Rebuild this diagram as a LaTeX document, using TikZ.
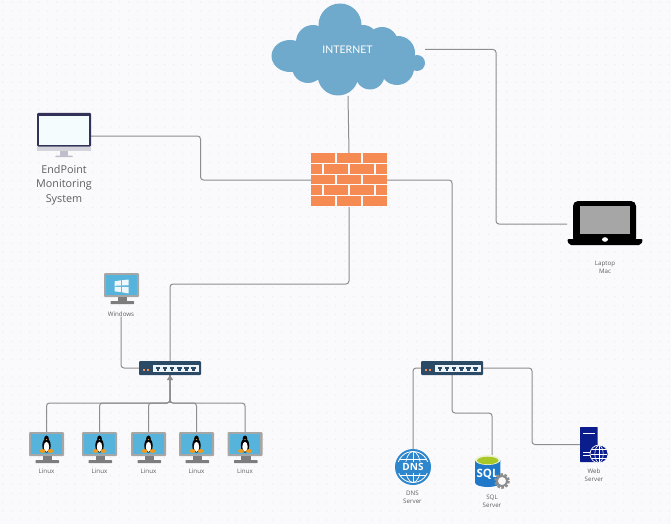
\documentclass[tikz,border=0pt]{standalone}
\usepackage{fontspec}
\setmainfont{Open Sans}
\newfontfamily\cloudfont{Lato}
\usetikzlibrary{arrows.meta}
\definecolor{pagebg}{HTML}{FAFAFC}
\definecolor{griddot}{HTML}{E9E9EE}
\definecolor{linkgray}{HTML}{8E8E8E}
\definecolor{labelgray}{HTML}{5F5F5F}
\definecolor{cloudblue}{HTML}{6FA9CC}
\definecolor{brick}{HTML}{F58B52}
\definecolor{switchblue}{HTML}{2B4A66}
\definecolor{portpale}{HTML}{EEF6FB}
\definecolor{bezel}{HTML}{A6A6A6}
\definecolor{pcscreen}{HTML}{55B3DC}
\definecolor{pcstand}{HTML}{7D7D7D}
\definecolor{penguinfoot}{HTML}{EE9A1E}
\definecolor{dnsblue}{HTML}{2E86CC}
\definecolor{sqlblue}{HTML}{1F78C8}
\definecolor{sqlgreen}{HTML}{A8C82A}
\definecolor{webnavy}{HTML}{0B1D8C}
\tikzset{
  link/.style={linkgray,line width=1pt,rounded corners=3pt},
  iconbox/.style={inner sep=0pt,outer sep=0pt},
  smalllabel/.style={text=labelgray,font=\fontsize{6.2}{8}\selectfont,align=center,inner sep=0pt},
  % screen and stand of a desktop, 35 wide and 31 high, drawn from its top left corner
  desktop/.pic={
    \fill[bezel,rounded corners=1pt] (0,0) rectangle (35,24);
    \fill[pcscreen] (2.3,2.3) rectangle (32.7,22);
    \fill[pcstand] (13.5,24) rectangle (23,28);
    \fill[pcstand,rounded corners=0.5pt] (6.5,28) rectangle (30,31);
  },
  switchbox/.pic={
    \fill[switchblue,rounded corners=1pt] (0,0) rectangle (62,14);
    \fill[portpale] (14,4) rectangle (60,11);
    \fill[brick] (4,8) rectangle (6,10);
    \fill[brick] (7.5,8) rectangle (9.5,10);
    \foreach \p in {0,...,5} {
      \fill[switchblue] (16.8+\p*7.1,5.5) rectangle (21.2+\p*7.1,8);
      \fill[switchblue] (17.8+\p*7.1,8) rectangle (20.2+\p*7.1,9.5);
    }
  },
}
\begin{document}
\begin{tikzpicture}[x=1pt,y=-1pt]
\useasboundingbox (0,0) rectangle (671,524);
\fill[pagebg] (0,0) rectangle (671,524);
% Dotted sheet
\foreach \x in {0,...,74} {
  \foreach \y in {0,...,58} {
    \fill[griddot] (2.7+\x*9,2+\y*8.93) circle (0.6);
  }
}

% Nodes
\node[iconbox,minimum width=154pt,minimum height=93pt] (cloud) at (348,49.5) {};
\node[iconbox,minimum width=76pt,minimum height=54pt] (wall) at (349,180) {};
\node[iconbox,minimum width=54pt,minimum height=46pt] (monitor) at (64,136) {};
\node[text=labelgray,font=\fontsize{10.8}{14.6}\selectfont,align=center,inner sep=0pt] (monitorlabel) at (64,185) {EndPoint\\Monitoring\\System};
\node[iconbox,minimum width=76pt,minimum height=42pt] (laptop) at (605,224) {};
\node[smalllabel] (laptoplabel) at (605,267) {Laptop\\Mac};
\node[iconbox,minimum width=35pt,minimum height=33pt] (windows) at (121.5,289.5) {};
\node[smalllabel] (windowslabel) at (121,314) {Windows};
\node[iconbox,minimum width=62pt,minimum height=14pt] (switchA) at (170,368) {};
\node[iconbox,minimum width=62pt,minimum height=14pt] (switchB) at (452,368) {};
\foreach \n/\x in {1/46.5,2/99.5,3/148.5,4/196.5,5/245} {
  \node[iconbox,minimum width=35pt,minimum height=31pt] (linux\n) at (\x,447.5) {};
  \node[smalllabel] (linuxlabel\n) at (\x,471) {Linux};
}
\node[iconbox,minimum width=36pt,minimum height=36pt] (dns) at (413,467) {};
\node[smalllabel] (dnslabel) at (412.5,497) {DNS\\Server};
\node[iconbox,minimum width=34pt,minimum height=32pt] (sql) at (492,471) {};
\node[smalllabel] (sqllabel) at (492,501) {SQL\\Server};
\node[iconbox,minimum width=28pt,minimum height=35pt] (web) at (594,444.5) {};
\node[smalllabel] (weblabel) at (594,475) {Web\\Server};
\coordinate (wallbend) at (349,284);
\coordinate (linuxbus) at (170,403);
\coordinate (internetbend) at (496,224);
\coordinate (monitorbend) at (200.5,158);
\coordinate (sqlbend) at (452,413);
\coordinate (webbend) at (532,444.5);

% Connectors
\draw[link] (cloud.south) -- (wall.north);
\draw[link] (cloud.east) -| (internetbend) -- (laptop.west);
\draw[link] (monitor.east) -| (monitorbend) |- (wall.west);
\draw[link] (wall.east) -| (switchB.north);
\draw[link] (wall.south) -- (wallbend) -| (switchA.north);
\draw[link] (windowslabel.south) |- (switchA.west);
\foreach \n in {1,...,5} {
  \draw[link] (linux\n.north) |- (linuxbus) -- (switchA.south);
}
\draw[linkgray,-{Triangle[length=5pt,width=6pt]},line width=1pt] (linuxbus) -- (switchA.south);
\draw[link] (switchB.west) -| (dns.north);
\draw[link] (switchB.south) -- (sqlbend) -| (sql.north);
\draw[link] (switchB.east) -| (webbend) -- (web.west);

% Internet
\begin{scope}
\fill[cloudblue] (340,25) circle (21.5);
\fill[cloudblue] (290,56) ellipse (18.5 and 16);
\fill[cloudblue] (313,42) circle (17);
\fill[cloudblue] (308,67) circle (16);
\fill[cloudblue] (338,75) circle (20.5);
\fill[cloudblue] (370,75) circle (14.5);
\fill[cloudblue] (397,68) circle (17);
\fill[cloudblue] (398,53) circle (17);
\fill[cloudblue] (382,43) circle (16);
\fill[cloudblue] (363,40) circle (15);
\fill[cloudblue] (417,63) circle (8);
\fill[cloudblue] (345,55) ellipse (52 and 22);
\node[text=white,font=\cloudfont\fontsize{10.5}{12}\selectfont,inner sep=0pt] (internet) at (347.5,49.5) {INTERNET};
\end{scope}

% Firewall
\begin{scope}[shift={(311,153)}]
\foreach \y in {0,21.5,43} {
  \foreach \x in {0,26,52} {
    \fill[brick] (\x,\y) rectangle (\x+23.5,\y+9.8);
  }
}
\foreach \y in {11,32} {
  \fill[brick] (0,\y) rectangle (10.5,\y+9.8);
  \foreach \x in {13,39} {
    \fill[brick] (\x,\y) rectangle (\x+23.5,\y+9.8);
  }
  \fill[brick] (64.5,\y) rectangle (75.5,\y+9.8);
}
\end{scope}

% Monitoring screen
\begin{scope}[shift={(37,113)}]
\fill[black!75!blue!60!gray,rounded corners=1pt] (0,0) rectangle (54,33.5);
\fill[white!96!cyan] (2,3) rectangle (52,32);
\fill[black!10!blue!12!gray!30] (0,33.5) rectangle (54,37.5);
\fill[black!10!blue!12!gray!45] (23,37.5) rectangle (31,42.5);
\fill[black!10!blue!12!gray!45,rounded corners=1pt] (18,42.5) rectangle (36,44);
\end{scope}

% Laptop
\begin{scope}[shift={(567,201)}]
\fill[black,rounded corners=5pt] (6,0) rectangle (69,42);
\fill[black!35] (13,5) rectangle (63,33);
\fill[black,rounded corners=2pt] (0,38) -- (76,38) -- (74,44) -- (2,44) -- cycle;
\fill[white] (38,38.5) ellipse (3 and 2.3);
\end{scope}

% Windows desktop
\pic at (104,273) {desktop};
\begin{scope}[shift={(121.7,286.5)}]
\fill[white!90!pcscreen] (-7,-0.7) -- (-0.8,-1) -- (-0.8,-6.2) -- (-7,-5.2) -- cycle;
\fill[white!90!pcscreen] (0.2,-1) -- (7,-1.2) -- (7,-7) -- (0.2,-6.3) -- cycle;
\fill[white!90!pcscreen] (-7,0.2) -- (-0.8,0.4) -- (-0.8,5.6) -- (-7,4.9) -- cycle;
\fill[white!90!pcscreen] (0.2,0.4) -- (7,0.6) -- (7,7) -- (0.2,5.8) -- cycle;
\end{scope}

% Switches
\pic at (139,361) {switchbox};
\pic at (421,361) {switchbox};

% Linux desktops
\foreach \x in {29,82,131,179,227.5} {
  \pic at (\x,432) {desktop};
  \begin{scope}[shift={(\x+17.5,444)}]
    \fill[black] (0,-5.5) ellipse (2.3 and 3);
    \fill[black] (0,1.5) ellipse (4.2 and 7);
    \fill[white] (0,2.8) ellipse (2.7 and 5);
    \fill[penguinfoot] (-0.9,-5) -- (0.9,-5) -- (0,-3.9) -- cycle;
    \fill[penguinfoot] (-4,7) ellipse (3 and 1.9);
    \fill[penguinfoot] (4,7) ellipse (3 and 1.9);
  \end{scope}
}

% DNS server
\begin{scope}[shift={(413,467)}]
\fill[dnsblue] (0,0) circle (18);
\draw[white,line width=0.8pt] (0,0) circle (15.5);
\draw[white,line width=0.7pt] (0,0) ellipse (7.5 and 15.5);
\draw[white,line width=0.7pt] (0,-15.5) -- (0,15.5);
\draw[white,line width=0.7pt] (-13,-8) -- (13,-8);
\draw[white,line width=0.7pt] (-13,8) -- (13,8);
\fill[dnsblue] (-16,-5.5) rectangle (16,5.5);
\node[text=white,font=\bfseries\fontsize{10}{10}\selectfont,inner sep=0pt] (dnstext) at (0,0) {DNS};
\end{scope}

% SQL server
\begin{scope}[shift={(475,455)}]
\fill[sqlblue] (0,5) -- (0,27.5) arc (180:360:12.7 and -4.5) -- (25.4,5) -- cycle;
\fill[white!80!sqlgreen] (12.7,5) ellipse (12.7 and 5);
\fill[sqlgreen] (12.7,5.5) ellipse (10.7 and 3.8);
\node[text=white,font=\bfseries\fontsize{11.5}{12}\selectfont,inner sep=0pt] (sqltext) at (12.5,19) {SQL};
\draw[bezel!85!black,line width=3pt,dash pattern=on 2.4pt off 1.6pt] (27,26) circle (6.3);
\draw[bezel!85!black,line width=2pt,fill=pagebg] (27,26) circle (5.2);
\end{scope}

% Web server
\begin{scope}[shift={(580,427)}]
\fill[webnavy,rounded corners=0.5pt] (0,0) rectangle (17.5,35);
\fill[white] (3,5.5) rectangle (14.5,7);
\fill[white] (3,24.5) rectangle (10,25.5);
\fill[white] (3,27.5) rectangle (10,28.5);
\fill[webnavy,draw=white,line width=0.7pt] (19,27) circle (9);
\draw[white,line width=0.6pt] (19,27) ellipse (4.2 and 8.5);
\draw[white,line width=0.6pt] (19,18.5) -- (19,35.5);
\draw[white,line width=0.6pt] (10.7,27) -- (27.3,27);
\draw[white,line width=0.6pt] (12,22.5) -- (26,22.5);
\draw[white,line width=0.6pt] (12,31.5) -- (26,31.5);
\end{scope}
\end{tikzpicture}
\end{document}
